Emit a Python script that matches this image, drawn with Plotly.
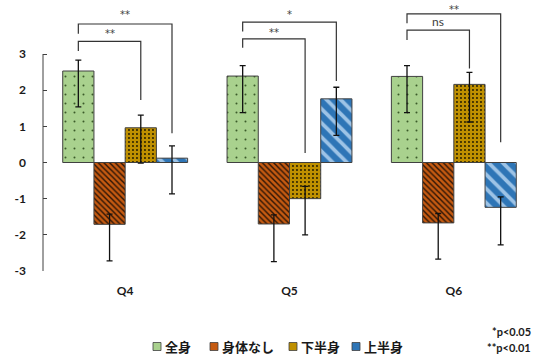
import plotly.graph_objects as go

# ---------------- data ----------------
categories = ["Q4", "Q5", "Q6"]
series_names = ["全身", "身体なし", "下半身", "上半身"]

vals_zenshin = [2.53, 2.39, 2.38]
vals_shintai_nashi = [-1.71, -1.70, -1.67]
vals_kahanshin = [0.96, -1.00, 2.16]
vals_johanshin = [0.12, 1.76, -1.24]

err_plus_zenshin = [0.30, 0.29, 0.30]
err_minus_zenshin = [0.99, 1.01, 1.00]
err_plus_shintai_nashi = [0.28, 0.25, 0.26]
err_minus_shintai_nashi = [1.01, 1.04, 1.00]
err_plus_kahanshin = [0.35, 0.34, 0.33]
err_minus_kahanshin = [0.98, 1.00, 1.04]
err_plus_johanshin = [0.34, 0.32, 0.29]
err_minus_johanshin = [0.99, 1.01, 1.04]

y_tick_values = [-3, -2, -1, 0, 1, 2, 3]

# significance comparisons: (category index, series from, series to, label)
comparisons = [
    (0, 0, 3, "**"), (0, 0, 2, "**"),
    (1, 0, 3, "*"), (1, 0, 2, "**"),
    (2, 0, 3, "**"), (2, 0, 2, "ns"),
]
notes = ["*p<0.05", "**p<0.01"]

# ---------------- styling / geometry ----------------
values = [vals_zenshin, vals_shintai_nashi, vals_kahanshin, vals_johanshin]
err_plus = [err_plus_zenshin, err_plus_shintai_nashi, err_plus_kahanshin, err_plus_johanshin]
err_minus = [err_minus_zenshin, err_minus_shintai_nashi, err_minus_kahanshin, err_minus_johanshin]

fills = ["#A9D18E", "#C55A11", "#BF9000", "#2E75B6"]
patterns = [
    dict(shape=".", fgcolor="#3A5A28", bgcolor="#A9D18E", size=9, solidity=0.04, fillmode="replace"),
    dict(shape="\\", fgcolor="#2A1406", bgcolor="#C55A11", size=4, solidity=0.35, fillmode="replace"),
    dict(shape=".", fgcolor="#1E1800", bgcolor="#BF9000", size=4, solidity=0.18, fillmode="replace"),
    dict(shape="\\", fgcolor="#9DC3E6", bgcolor="#2E75B6", size=10, solidity=0.38, fillmode="replace"),
]

W, H = 545, 356
M_L, M_R, M_T, M_B = 43, 9, 0, 85
PLOT_W, PLOT_H = W - M_L - M_R, H - M_T - M_B

def px_x(px):
    return (px - M_L) / PLOT_W

def px_y(py):
    return (H - M_B - py) / PLOT_H

BARGAP = 0.24
bar_w = (1 - BARGAP) / 4

# bracket geometry in axis units: top, left-leg end, right-leg end, label y
bracket_geom = [
    (3.83, 3.56, 0.81, 4.09), (3.35, 3.08, 1.73, 3.57),
    (3.88, 3.62, 2.25, 4.08), (3.42, 3.17, 0.26, 3.59),
    (4.11, 3.85, 0.56, 4.24), (3.66, 3.39, 2.60, 3.89),
]

# custom legend positions (pixels)
legend_icon_px = [153, 210, 289, 352]
LEGEND_Y_PX = 346.5
ICON = 8

AX_COLOR = "#404040"
TICK_FONT = dict(family="Lato", size=12, color="#1a1a1a", weight="bold")

x_num = list(range(len(categories)))

fig = go.Figure()
for i, name in enumerate(series_names):
    fig.add_trace(go.Bar(
        name=name,
        x=x_num,
        y=values[i],
        marker=dict(color=fills[i], pattern=patterns[i],
                    line=dict(color=AX_COLOR, width=1)),
        error_y=dict(type="data", symmetric=False, array=err_plus[i],
                     arrayminus=err_minus[i], color="#111111",
                     thickness=1.3, width=3),
        showlegend=False,
    ))

shapes = []
annotations = []
for (cat, s_from, s_to, label), (yt, yl, yr, ylab) in zip(comparisons, bracket_geom):
    xl = cat + (s_from - 1.5) * bar_w
    xr = cat + (s_to - 1.5) * bar_w
    shapes.append(dict(type="path", xref="x", yref="y",
                       path=f"M {xl},{yl} L {xl},{yt} L {xr},{yt} L {xr},{yr}",
                       line=dict(color="#333333", width=1.2)))
    annotations.append(dict(x=(xl + xr) / 2, y=ylab, xref="x", yref="y",
                            text=label, showarrow=False, yanchor="middle",
                            font=dict(family="Lato" if label == "ns" else "DejaVu Sans",
                                      size=12 if label == "ns" else 10,
                                      color="#404040")))

# y axis line from -3 to 3
shapes.append(dict(type="line", xref="paper", yref="y", x0=0, x1=0,
                   y0=min(y_tick_values), y1=max(y_tick_values),
                   line=dict(color=AX_COLOR, width=1)))

# legend (icons + labels)
for i, name in enumerate(series_names):
    x0 = legend_icon_px[i]
    shapes.append(dict(type="rect", xref="paper", yref="paper",
                       x0=px_x(x0), x1=px_x(x0 + ICON),
                       y0=px_y(LEGEND_Y_PX + ICON / 2), y1=px_y(LEGEND_Y_PX - ICON / 2),
                       fillcolor=fills[i], line=dict(color=AX_COLOR, width=0.8)))
    annotations.append(dict(x=px_x(x0 + ICON + 2), y=px_y(LEGEND_Y_PX), xref="paper", yref="paper",
                            xanchor="left", yanchor="middle", showarrow=False, text=name,
                            font=dict(family="Noto Sans CJK JP", size=13, color="#1a1a1a",
                                      weight="bold")))

note_y_px = [331, 347]
for k, t in enumerate(notes):
    annotations.append(dict(x=px_x(533), y=px_y(note_y_px[k]), xref="paper", yref="paper",
                            xanchor="right", yanchor="middle", showarrow=False, text=t,
                            font=dict(family="Lato", size=11, color="#1a1a1a", weight="bold")))

Y_MIN, Y_MAX = -3, 4.493

fig.update_layout(
    width=W, height=H,
    margin=dict(l=M_L, r=M_R, t=M_T, b=M_B, autoexpand=False),
    paper_bgcolor="white", plot_bgcolor="white",
    barmode="group", bargap=BARGAP, bargroupgap=0,
    showlegend=False,
    shapes=shapes,
    annotations=annotations,
    xaxis=dict(range=[-0.5, 2.5], tickvals=x_num, ticktext=categories,
               showline=False, showgrid=False, zeroline=False, ticks="",
               ticklabelstandoff=11, tickfont=TICK_FONT, fixedrange=True),
    xaxis2=dict(overlaying="x", anchor="free",
                position=(0 - Y_MIN) / (Y_MAX - Y_MIN),
                range=[-0.5, 2.5], tickvals=[-0.5, 0.5, 1.5, 2.5],
                ticks="inside", ticklen=4, tickcolor=AX_COLOR, tickwidth=1,
                showticklabels=False, showline=True, linecolor=AX_COLOR, linewidth=1,
                showgrid=False, zeroline=False, side="bottom"),
    yaxis=dict(range=[Y_MIN, Y_MAX], tickvals=y_tick_values,
               ticktext=[str(v) for v in y_tick_values],
               ticks="inside", ticklen=4, tickcolor=AX_COLOR, tickwidth=1,
               showline=False, showgrid=False, zeroline=False,
               ticklabelstandoff=16, tickfont=TICK_FONT),
)

fig.write_html("out.html",
               config={"displayModeBar": False},
               post_script="document.body.style.margin='0';document.body.style.padding='0';")
